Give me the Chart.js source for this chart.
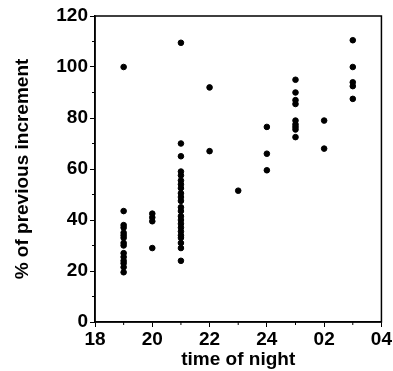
<!DOCTYPE html>
<html>
<head>
<meta charset="utf-8">
<script src="https://cdn.jsdelivr.net/npm/chart.js@4"></script>
<style>
  html, body { margin: 0; padding: 0; background: #fff; }
  #wrap { width: 393px; height: 371px; }
</style>
</head>
<body>
<div id="wrap"><canvas id="chart" width="393" height="371"></canvas></div>
<script>
// hour of night (24 = midnight, 26 = 02, ...) and % of previous increment
const hours = [
  19, 19, 19, 19, 19, 19, 19, 19, 19, 19, 19, 19, 19, 19, 19,
  20, 20, 20, 20,
  21, 21, 21, 21, 21, 21, 21, 21, 21, 21, 21, 21, 21, 21, 21, 21, 21, 21, 21, 21, 21, 21, 21,
  22, 22,
  23,
  24, 24, 24,
  25, 25, 25, 25, 25, 25, 25, 25, 25,
  26, 26,
  27, 27, 27, 27, 27
];
const pctValues = [
  100, 43.5, 38, 37, 35, 34, 33, 31, 30, 27, 25.5, 24, 23, 21.5, 19.5,
  42.5, 41, 39.5, 29,
  109.5, 70, 65, 59, 57.5, 55.5, 54, 52.5, 50.5, 49, 47.5, 45, 43.5, 41.5, 40, 38.5, 37, 35.5, 34, 33, 31, 29, 24,
  92, 67,
  51.5,
  76.5, 66, 59.5,
  95, 90, 87, 85.5, 79, 77.5, 76.5, 75.5, 72.5,
  79, 68,
  110.5, 100, 94, 92.5, 87.5
];
const xTickValues = [18, 20, 22, 24, 26, 28];
const xTickLabels = ['18', '20', '22', '24', '02', '04'];
const yTickValues = [0, 20, 40, 60, 80, 100, 120];

const points = hours.map((h, i) => ({ x: h, y: pctValues[i] }));
const font = { family: '"Liberation Sans", Arial, sans-serif', size: 19, weight: 'bold' };

// box round the plot plus short minor ticks between the labelled ones
const framePlugin = {
  id: 'frame',
  afterDraw(chart) {
    const { ctx, chartArea: a, scales } = chart;
    ctx.save();
    ctx.strokeStyle = '#000';
    ctx.lineWidth = 1.5;
    ctx.strokeRect(a.left, a.top, a.right - a.left, a.bottom - a.top);
    ctx.lineWidth = 1;
    ctx.beginPath();
    for (let h = 19; h < 28; h += 2) {
      const px = scales.x.getPixelForValue(h);
      ctx.moveTo(px, a.bottom);
      ctx.lineTo(px, a.bottom + 3);
    }
    for (let v = 10; v < 120; v += 20) {
      const py = scales.y.getPixelForValue(v);
      ctx.moveTo(a.left, py);
      ctx.lineTo(a.left - 3, py);
    }
    ctx.stroke();
    ctx.restore();
  }
};

new Chart(document.getElementById('chart'), {
  type: 'scatter',
  data: {
    datasets: [{
      data: points,
      backgroundColor: '#000',
      borderColor: '#000',
      pointRadius: 2.8,
      pointHoverRadius: 2.8
    }]
  },
  options: {
    responsive: false,
    animation: false,
    layout: { padding: { top: 16, right: 9, left: 0, bottom: 0 } },
    plugins: { legend: { display: false }, tooltip: { enabled: false } },
    scales: {
      x: {
        type: 'linear',
        min: 18,
        max: 28,
        afterBuildTicks(scale) { scale.ticks = xTickValues.map(v => ({ value: v })); },
        afterFit(scale) { scale.height = 49; },
        ticks: {
          color: '#000',
          font,
          padding: 1,
          maxRotation: 0,
          callback: (v) => xTickLabels[xTickValues.indexOf(v)]
        },
        grid: { drawOnChartArea: false, tickLength: 5, color: '#000' },
        border: { color: '#000', width: 1.5 },
        title: { display: true, text: 'time of night', color: '#000', font, padding: { top: 1, bottom: 0 } }
      },
      y: {
        min: 0,
        max: 120,
        afterBuildTicks(scale) { scale.ticks = yTickValues.map(v => ({ value: v })); },
        afterFit(scale) { scale.width = 95; },
        ticks: { color: '#000', font, padding: 2 },
        grid: { drawOnChartArea: false, tickLength: 5, color: '#000' },
        border: { color: '#000', width: 1.5 },
        title: { display: true, text: '% of previous increment', color: '#000', font, padding: { top: 11, bottom: 0 } }
      }
    }
  },
  plugins: [framePlugin]
});
</script>
</body>
</html>
